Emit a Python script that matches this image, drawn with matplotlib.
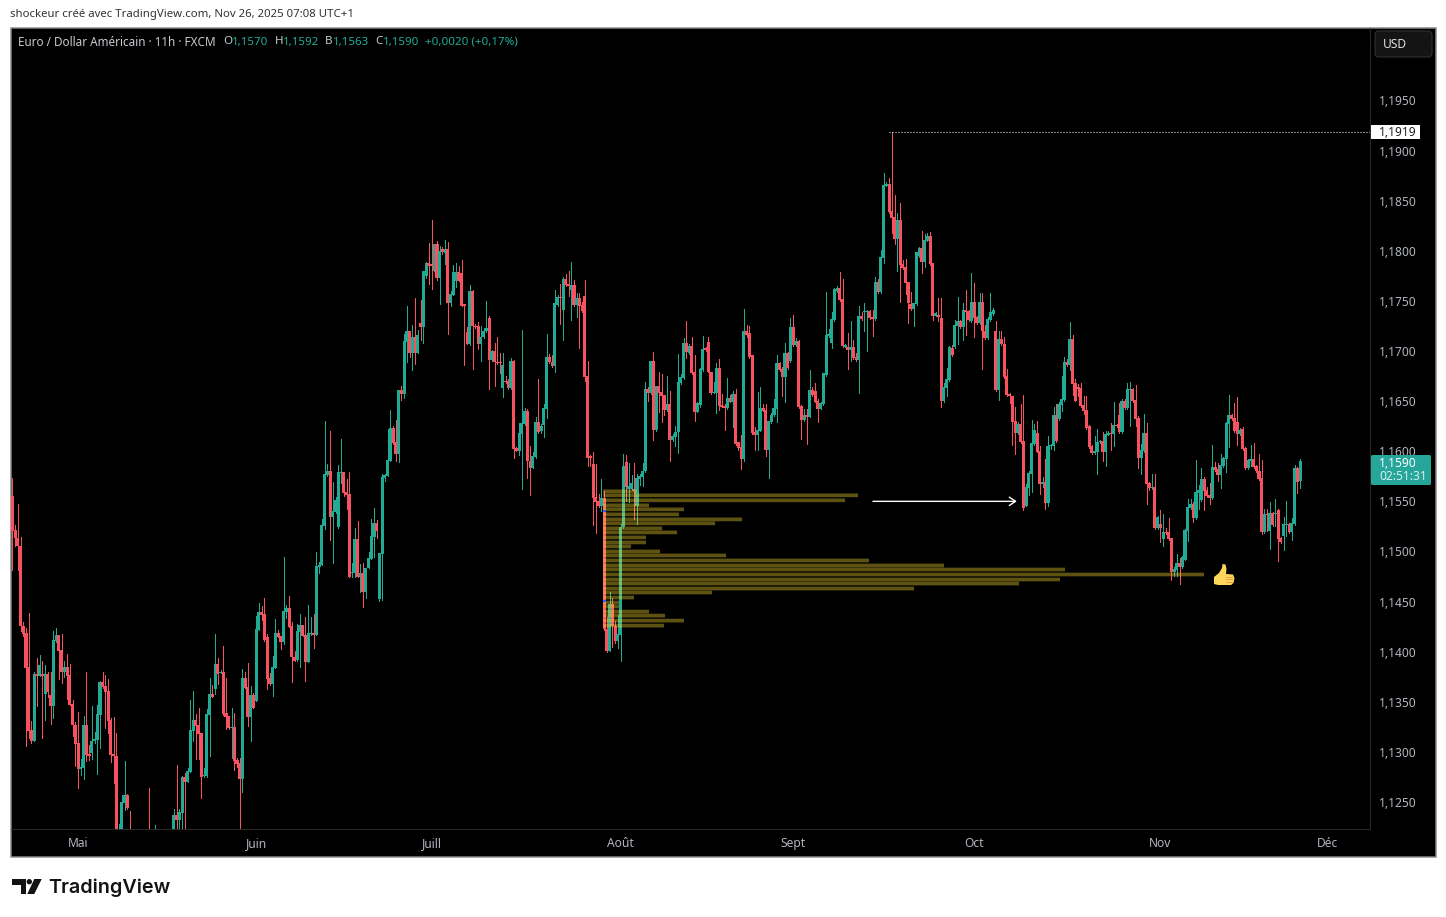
"""EUR/USD 11h candles with a fixed-range volume profile, TradingView dark style."""
import numpy as np
import matplotlib

matplotlib.use("Agg")
import matplotlib.pyplot as plt
from matplotlib.patches import Circle, FancyBboxPatch, Polygon, Rectangle
from matplotlib.ticker import FuncFormatter

# prices are kept in pips (1/10000), bars are in chart order
direction = (
    "rrrrrrrrgr" "grgrrggrrg" "rrrrrggrrg" "gggrrrrrrg" "ggrr"
    "rgrgrrrggrgrggr"
    "grggrgggrr" "rgggrgrgrr" "rgrrrgrrgr" "ggrrrrggrr" "ggrrrggrrg"
    "grgggggrgg" "ggrrrggrgr" "ggggrggggg" "rrgrggrgrg" "rggrrgrgrg"
    "rgggrrrrgr" "rrgggrgrrr" "grrgrrgggr" "rggrgggrrg" "grgrrgrgrr"
    "rrrrrrgrrg" "rrgggrggrg" "gggrgrgrrr" "grgggggrgr" "rgggrrrggr"
    "rrgrgrrrgr" "rrrggrrggg" "grrgrgrgrr" "grgrrrgggg" "gggrrgrgrr"
    "grggrrgrgg" "grrrgrrrrr" "gggrggrrgr" "rgggrggrgr" "rgrrgrrggg"
    "rgrrrrrrgr" "rggggrrgrg" "ggrgggrgrr" "rrrrrrgggr" "ggrgrrgrgg"
    "rrrggrrgrg" "rgrrrggrgg" "ggrgggrrrg" "rrggggrrrg" "rrggrrrrgr"
    "grgrrggrgg" "rg"
)
body_hi = [
    11555,11521,11513,11505,11426,11419,11385,11322,11378,11378,
    11387,11378,11378,11378,11357,11412,11417,11417,11402,11385,
    11385,11377,11348,11327,11309,11285,11327,11327,11298,11311,
    11313,11338,11370,11370,11366,11361,11332,11298,11296,11220,
    11250,11257,11257,11215,
    11205,11208,11208,11212,11212,11200,11215,11212,11217,11205,11205,11205,11210,11215,11215,
    11237,11237,11240,11275,11275,11281,11322,11332,11332,11327,
    11319,11277,11338,11358,11358,11388,11388,11380,11380,11339,
    11336,11325,11325,11292,11289,11374,11374,11365,11357,11357,
    11423,11440,11440,11438,11415,11374,11385,11419,11419,11416,
    11441,11444,11444,11426,11395,11421,11427,11427,11417,11419,
    11419,11419,11485,11486,11526,11577,11580,11580,11540,11551,
    11579,11579,11579,11559,11557,11479,11512,11512,11478,11478,
    11483,11493,11515,11528,11528,11498,11574,11576,11591,11623,
    11623,11609,11661,11661,11710,11720,11720,11714,11714,11716,
    11728,11780,11788,11788,11787,11807,11807,11800,11802,11802,
    11802,11757,11779,11779,11779,11778,11747,11719,11760,11760,
    11725,11725,11714,11720,11723,11733,11700,11700,11689,11689,
    11686,11670,11670,11690,11690,11603,11618,11628,11640,11640,
    11590,11595,11629,11629,11625,11643,11694,11694,11689,11748,
    11754,11754,11772,11772,11767,11766,11766,11753,11753,11746,
    11755,11675,11595,11587,11554,11550,11553,11553,11423,11448,
    11448,11426,11418,11524,11585,11589,11565,11568,11562,11573,
    11575,11580,11662,11662,11690,11690,11665,11665,11659,11656,
    11647,11647,11615,11619,11669,11674,11708,11708,11705,11705,
    11679,11648,11682,11702,11703,11709,11679,11659,11683,11683,
    11646,11645,11653,11653,11657,11657,11609,11604,11720,11720,
    11718,11696,11619,11621,11643,11643,11641,11630,11636,11643,
    11688,11688,11682,11698,11698,11724,11724,11710,11710,11645,
    11636,11636,11661,11661,11660,11650,11648,11678,11716,11717,
    11732,11762,11763,11763,11752,11706,11704,11704,11704,11694,
    11735,11735,11740,11740,11740,11734,11769,11769,11794,11866,
    11867,11867,11840,11834,11831,11831,11787,11784,11769,11747,
    11748,11799,11803,11803,11811,11815,11815,11788,11738,11736,
    11733,11664,11672,11704,11703,11726,11730,11730,11741,11741,
    11740,11749,11749,11734,11749,11749,11720,11732,11739,11741,
    11720,11712,11712,11707,11675,11657,11655,11630,11627,11627,
    11610,11564,11578,11608,11621,11618,11600,11569,11569,11605,
    11606,11636,11636,11647,11652,11689,11689,11712,11712,11668,
    11664,11663,11646,11641,11625,11605,11600,11609,11610,11610,
    11617,11618,11618,11626,11626,11636,11650,11650,11662,11662,
    11662,11651,11633,11601,11618,11618,11568,11564,11564,11534,
    11527,11519,11519,11519,11513,11482,11488,11488,11494,11521,
    11544,11547,11547,11559,11561,11572,11572,11561,11556,11584,
    11584,11582,11586,11593,11628,11636,11636,11633,11629,11621,
    11622,11603,11591,11592,11592,11585,11580,11573,11537,11537,
    11538,11538,11538,11541,11513,11527,11527,11527,11528,11583,
    11583,11590,
]
body_lo = [
    11520,11513,11505,11426,11418,11384,11321,11311,11311,11376,
    11376,11376,11358,11360,11346,11346,11411,11401,11380,11380,
    11376,11347,11327,11308,11283,11283,11284,11297,11296,11299,
    11311,11312,11337,11365,11360,11331,11297,11296,11215,11215,
    11215,11249,11244,11200,
    11195,11195,11198,11198,11200,11190,11195,11195,11205,11195,11195,11198,11198,11208,11208,
    11215,11232,11232,11239,11270,11270,11280,11321,11326,11318,
    11275,11276,11276,11337,11355,11363,11378,11379,11338,11335,
    11324,11324,11291,11288,11273,11273,11364,11335,11335,11344,
    11351,11422,11437,11412,11373,11368,11368,11384,11415,11410,
    11410,11440,11425,11395,11391,11392,11420,11416,11390,11390,
    11418,11417,11417,11484,11486,11525,11576,11534,11534,11539,
    11524,11578,11558,11556,11474,11478,11478,11474,11474,11460,
    11460,11483,11492,11514,11520,11453,11497,11573,11575,11590,
    11608,11597,11597,11657,11657,11709,11698,11698,11698,11698,
    11724,11724,11775,11785,11785,11780,11773,11773,11799,11798,
    11748,11748,11756,11770,11770,11745,11745,11707,11707,11725,
    11724,11707,11707,11714,11720,11691,11691,11689,11688,11688,
    11663,11669,11663,11663,11602,11600,11600,11617,11627,11590,
    11583,11583,11594,11619,11620,11626,11642,11689,11685,11685,
    11746,11753,11741,11766,11765,11761,11746,11746,11745,11740,
    11674,11593,11593,11553,11549,11545,11545,11423,11401,11401,
    11426,11411,11411,11417,11524,11564,11562,11562,11560,11545,
    11572,11574,11580,11658,11658,11621,11621,11658,11655,11641,
    11641,11611,11611,11614,11619,11668,11673,11699,11698,11678,
    11639,11639,11646,11681,11701,11679,11658,11658,11658,11645,
    11644,11643,11643,11649,11649,11607,11603,11592,11592,11716,
    11694,11618,11616,11616,11620,11640,11601,11601,11629,11636,
    11642,11681,11674,11674,11683,11690,11706,11706,11644,11631,
    11631,11634,11634,11656,11649,11642,11642,11647,11676,11715,
    11708,11731,11760,11751,11705,11704,11701,11701,11693,11691,
    11691,11732,11739,11739,11733,11732,11732,11759,11759,11793,
    11865,11839,11833,11812,11812,11786,11783,11768,11748,11742,
    11742,11747,11795,11789,11789,11810,11787,11735,11735,11734,
    11650,11650,11663,11671,11696,11704,11725,11724,11724,11739,
    11731,11730,11733,11728,11728,11720,11713,11713,11731,11737,
    11661,11661,11707,11674,11656,11655,11629,11618,11618,11609,
    11543,11545,11563,11577,11607,11599,11567,11567,11548,11548,
    11605,11605,11610,11632,11646,11651,11686,11686,11667,11650,
    11662,11645,11640,11623,11604,11598,11598,11599,11609,11599,
    11599,11616,11617,11617,11625,11619,11619,11643,11643,11661,
    11650,11632,11593,11593,11600,11567,11563,11563,11523,11523,
    11523,11512,11518,11512,11479,11479,11481,11484,11484,11491,
    11520,11543,11533,11533,11558,11551,11560,11555,11553,11553,
    11581,11576,11576,11585,11592,11627,11632,11620,11617,11617,
    11602,11583,11583,11590,11584,11580,11572,11519,11519,11536,
    11520,11526,11537,11512,11509,11515,11526,11519,11519,11527,
    11569,11570,
]
wick_hi = [
    11573,11526,11547,11514,11430,11424,11439,11331,11380,11394,
    11397,11391,11387,11380,11380,11421,11424,11417,11418,11391,
    11398,11388,11352,11330,11340,11293,11336,11380,11307,11346,
    11320,11347,11371,11380,11377,11373,11334,11335,11319,11228,
    11257,11291,11258,11241,
    11212,11214,11213,11217,11216,11210,11264,11218,11227,11210,11212,11210,11215,11219,11218,
    11243,11287,11243,11276,11279,11284,11352,11361,11338,11344,
    11319,11284,11343,11374,11367,11418,11394,11382,11406,11374,
    11336,11344,11339,11294,11294,11383,11380,11389,11366,11359,
    11436,11449,11446,11454,11418,11379,11396,11433,11422,11416,
    11494,11447,11456,11430,11401,11428,11438,11427,11435,11447,
    11435,11438,11499,11489,11532,11630,11587,11620,11569,11554,
    11586,11612,11579,11572,11579,11488,11523,11530,11487,11488,
    11483,11499,11532,11543,11531,11498,11577,11577,11622,11641,
    11625,11631,11661,11665,11717,11745,11720,11726,11753,11721,
    11751,11780,11789,11808,11831,11807,11810,11805,11804,11811,
    11809,11760,11786,11788,11785,11791,11747,11724,11766,11761,
    11727,11729,11725,11723,11750,11735,11701,11708,11714,11698,
    11698,11675,11672,11693,11691,11604,11628,11721,11643,11642,
    11605,11599,11634,11672,11627,11647,11717,11697,11696,11761,
    11756,11767,11774,11777,11780,11789,11771,11758,11758,11749,
    11771,11690,11596,11599,11587,11557,11572,11560,11435,11460,
    11454,11431,11437,11527,11597,11596,11588,11576,11588,11577,
    11577,11588,11669,11664,11690,11699,11665,11679,11677,11656,
    11675,11660,11617,11625,11697,11677,11713,11730,11707,11714,
    11696,11649,11683,11715,11704,11714,11679,11669,11688,11692,
    11657,11647,11673,11656,11660,11662,11609,11616,11742,11726,
    11725,11696,11624,11659,11664,11647,11647,11630,11638,11652,
    11696,11689,11684,11708,11699,11733,11736,11713,11711,11646,
    11642,11642,11681,11664,11668,11652,11649,11678,11759,11722,
    11739,11763,11765,11779,11772,11707,11718,11730,11711,11698,
    11745,11739,11748,11741,11741,11741,11774,11772,11801,11878,
    11869,11873,11919,11856,11838,11848,11791,11792,11769,11759,
    11748,11799,11804,11820,11817,11818,11819,11788,11739,11753,
    11753,11668,11683,11705,11706,11731,11754,11731,11748,11761,
    11741,11778,11768,11735,11758,11758,11726,11734,11758,11743,
    11730,11720,11720,11714,11682,11658,11655,11644,11629,11647,
    11656,11567,11580,11631,11627,11630,11605,11574,11592,11615,
    11607,11644,11647,11649,11675,11694,11692,11729,11716,11672,
    11667,11668,11655,11655,11626,11606,11615,11622,11611,11619,
    11620,11620,11628,11649,11627,11648,11652,11652,11668,11669,
    11663,11666,11635,11607,11637,11628,11569,11577,11577,11535,
    11541,11537,11523,11533,11513,11484,11497,11493,11495,11522,
    11552,11552,11549,11591,11566,11583,11574,11564,11568,11606,
    11589,11588,11597,11594,11629,11656,11637,11648,11654,11623,
    11624,11604,11592,11606,11608,11586,11597,11591,11542,11542,
    11549,11539,11552,11542,11514,11534,11550,11528,11533,11586,
    11584,11592,
]
wick_lo = [
    11481,11505,11481,11421,11416,11306,11314,11309,11311,11346,
    11376,11314,11332,11355,11328,11334,11410,11373,11369,11375,
    11353,11347,11316,11286,11264,11277,11273,11291,11292,11293,
    11309,11278,11304,11364,11324,11319,11290,11269,11205,11205,
    11205,11242,11243,11190,
    11188,11190,11192,11193,11195,11185,11190,11190,11200,11190,11190,11192,11195,11203,11203,
    11205,11215,11215,11215,11215,11270,11280,11311,11293,11293,
    11254,11275,11275,11296,11355,11358,11368,11379,11337,11323,
    11323,11294,11282,11285,11215,11260,11364,11326,11311,11344,
    11351,11422,11432,11411,11363,11367,11356,11384,11415,11403,
    11408,11434,11425,11370,11391,11391,11385,11416,11371,11390,
    11417,11404,11417,11478,11486,11522,11575,11511,11488,11538,
    11523,11568,11555,11542,11474,11474,11474,11474,11460,11445,
    11454,11483,11492,11494,11513,11451,11452,11570,11575,11590,
    11607,11590,11589,11651,11653,11689,11694,11681,11687,11698,
    11711,11708,11773,11767,11762,11780,11771,11747,11797,11787,
    11717,11745,11756,11764,11770,11745,11686,11707,11706,11682,
    11723,11702,11690,11713,11719,11662,11690,11665,11687,11678,
    11654,11668,11662,11662,11593,11600,11596,11562,11626,11573,
    11556,11583,11593,11618,11618,11614,11633,11688,11684,11679,
    11745,11727,11711,11765,11755,11731,11745,11734,11703,11739,
    11670,11585,11585,11526,11518,11544,11540,11422,11400,11401,
    11405,11409,11404,11391,11523,11550,11549,11561,11532,11527,
    11566,11565,11579,11650,11657,11611,11620,11639,11629,11636,
    11640,11590,11610,11605,11598,11667,11672,11693,11697,11677,
    11630,11639,11644,11680,11700,11679,11657,11658,11638,11641,
    11644,11621,11642,11649,11624,11606,11601,11582,11590,11714,
    11693,11617,11601,11601,11620,11640,11595,11573,11628,11635,
    11629,11680,11655,11649,11682,11689,11705,11705,11643,11612,
    11630,11607,11634,11655,11649,11629,11642,11646,11675,11714,
    11703,11730,11759,11750,11704,11704,11682,11690,11692,11690,
    11658,11731,11720,11700,11732,11715,11731,11758,11758,11788,
    11865,11838,11818,11807,11780,11749,11782,11757,11728,11741,
    11725,11746,11794,11778,11784,11810,11786,11731,11735,11730,
    11644,11649,11655,11670,11695,11703,11707,11723,11711,11716,
    11730,11729,11714,11727,11727,11682,11712,11712,11730,11736,
    11660,11651,11706,11673,11655,11648,11606,11597,11617,11608,
    11541,11545,11556,11559,11606,11599,11557,11564,11542,11545,
    11602,11601,11609,11631,11640,11650,11685,11681,11656,11650,
    11655,11644,11637,11622,11603,11597,11597,11577,11608,11590,
    11585,11616,11601,11605,11624,11618,11618,11642,11642,11625,
    11649,11625,11583,11577,11599,11547,11561,11562,11522,11522,
    11509,11505,11517,11511,11472,11475,11475,11468,11483,11491,
    11510,11542,11529,11532,11542,11550,11541,11554,11547,11552,
    11580,11570,11563,11584,11579,11604,11631,11619,11606,11616,
    11601,11582,11582,11585,11583,11579,11571,11517,11518,11520,
    11502,11525,11525,11490,11508,11501,11515,11518,11511,11526,
    11558,11563,
]

# bar that is cut off by the left edge of the chart
clipped_bar_hi = 11565
clipped_bar_lo = 11390

# fixed range volume profile
profile_price = [
    11560,11556,11551,11546,11542,11537,11532,11528,11523,11519,
    11514,11509,11505,11500,11496,11491,11486,11482,11477,11472,
    11468,11463,11459,11454,11449,11445,11440,11436,11431,11426,
]
profile_volume = [
    34,255,242,46,81,76,139,112,59,74,
    43,43,28,57,123,266,341,462,601,457,
    416,311,109,31,16,16,46,62,81,61,
]
profile_start_bar = 215.6
value_area_marks = [11540, 11451]

month_bars = [24, 89, 153, 222, 285, 351, 419, 480]
month_labels = ["Mai", "Juin", "Juill", "Août", "Sept", "Oct", "Nov", "Déc"]
price_ticks = [1.125, 1.13, 1.135, 1.14, 1.145, 1.15, 1.155, 1.16,
               1.165, 1.17, 1.175, 1.18, 1.185, 1.19, 1.195]

GREEN = "#22ab94"
RED = "#f7525f"
AXIS_TEXT = "#b2b5be"
SEP = "#2a2a2a"
W, H = 1446, 917
PT = 0.72  # one pixel at dpi 100

assert len(direction) == len(body_hi) == len(body_lo) == len(wick_hi) == len(wick_lo)

fig = plt.figure(figsize=(W / 100, H / 100), dpi=100, facecolor="white")
plt.rcParams["font.family"] = ["Noto Sans", "DejaVu Sans"]

# page furniture behind the chart
bg = fig.add_axes([0, 0, 1, 1], zorder=0)
bg.set_xlim(0, W)
bg.set_ylim(H, 0)
bg.axis("off")
bg.add_patch(Rectangle((10.5, 27.5), 1425, 829, fc="black", ec="#8a8a8a", lw=1.5 * PT))

ax = fig.add_axes([11 / W, (H - 829) / H, 1359 / W, 801 / H], zorder=1)
ax.patch.set_visible(False)
bar_px = 2.74
ax.set_xlim((11 - 12.3) / bar_px, (1370 - 12.3) / bar_px)
ax.set_ylim(1.1950 - 728.5 / 10021, 1.1950 + 72.5 / 10021)

bars = np.arange(len(direction))
colors = [GREEN if d == "g" else RED for d in direction]
b_hi = np.array(body_hi) / 10000
b_lo = np.array(body_lo) / 10000
ax.vlines(bars, np.array(wick_lo) / 10000, np.array(wick_hi) / 10000,
          colors=colors, lw=PT, antialiased=False, zorder=2)
ax.bar(bars, b_hi - b_lo, bottom=b_lo, width=1.12, color=colors, linewidth=0,
       antialiased=False, zorder=3)
ax.bar(-0.9, (clipped_bar_hi - clipped_bar_lo) / 10000, bottom=clipped_bar_lo / 10000,
       width=1.1, color=GREEN, linewidth=0, antialiased=False, zorder=3)

# volume profile sits on top of the candles, semi transparent
rows = ax.barh(np.array(profile_price) / 10000, np.array(profile_volume) / bar_px,
               left=profile_start_bar, height=0.00037, color="#ffe033", alpha=0.37,
               linewidth=0, zorder=4)
for row in rows:
    row.set_snap(False)
ax.barh(np.array(value_area_marks) / 10000, 0.9, left=profile_start_bar, height=0.0002,
        color="#2962ff", linewidth=0, zorder=5)

# drawn arrow and the high marker
ax.annotate("", xy=(366.6, 1.1550), xytext=(314.1, 1.1550), zorder=6,
            arrowprops=dict(arrowstyle="->,head_length=0.45,head_width=0.3", color="white",
                            lw=1.0, shrinkA=0, shrinkB=0))
ax.hlines(1.1919, 320, ax.get_xlim()[1], colors="white", lw=PT,
          linestyles=(0, (1, 2)), zorder=6)

ax.yaxis.tick_right()
ax.set_yticks(price_ticks)
ax.yaxis.set_major_formatter(FuncFormatter(lambda v, _: f"{v:.4f}".replace(".", ",")))
ax.set_xticks(month_bars)
ax.set_xticklabels(month_labels, fontweight="bold", va="baseline")
ax.tick_params(axis="y", length=0, pad=6.5, labelsize=12 * PT, labelcolor=AXIS_TEXT)
ax.tick_params(axis="x", length=0, pad=12.9, labelsize=12 * PT, labelcolor=AXIS_TEXT)
for s in ("top", "left"):
    ax.spines[s].set_visible(False)
for s in ("right", "bottom"):
    ax.spines[s].set_color(SEP)
    ax.spines[s].set_linewidth(PT)

# overlay in pixel coordinates for the labels around the chart
fg = fig.add_axes([0, 0, 1, 1], zorder=2)
fg.set_xlim(0, W)
fg.set_ylim(H, 0)
fg.axis("off")
fg.patch.set_visible(False)


def label(x, y, s, color=AXIS_TEXT, size=12, **kw):
    kw.setdefault("va", "center")
    fg.text(x, y, s, color=color, fontsize=size * PT, **kw)


label(10, 15, "shockeur créé avec TradingView.com, Nov 26, 2025 07:08 UTC+1", color="#333333", size=11.4)

label(18, 42, "Euro / Dollar Américain · 11h · FXCM", color="#c8cad0", size=11.7)
for x, s, col in [(223, "O", "#c8cad0"), (232, "1,1570", GREEN), (275, "H", "#c8cad0"),
                  (283, "1,1592", GREEN), (325, "B", "#c8cad0"), (333, "1,1563", GREEN),
                  (375, "C", "#c8cad0"), (383, "1,1590", GREEN),
                  (425, "+0,0020 (+0,17%)", GREEN)]:
    label(x, 42, s, color=col, size=11.6)

# currency button
fg.add_patch(FancyBboxPatch((1375, 31), 57, 26, boxstyle="round,pad=0,rounding_size=4",
                            fc="#141414", ec="#333333", lw=PT))
label(1383, 45, "USD", color="#e0e0e0", size=12)

# high tag
fg.add_patch(Rectangle((1371, 125), 49, 14, fc="white", ec="none"))
label(1379, 132, "1,1919", color="#222222")

# last price tag
fg.add_patch(FancyBboxPatch((1371, 455), 60, 30, boxstyle="round,pad=0,rounding_size=1.5",
                            fc="#26a69a", ec="none"))
label(1379, 463.5, "1,1590", color="white", fontweight="bold")
label(1379, 477, "02:51:31", color="#d5efeb")

# thumbs up sticker
fg.add_patch(Polygon([(1214, 577), (1219, 573), (1222, 568), (1222.5, 564), (1225.5, 564.5),
                      (1226.5, 569), (1226, 574), (1233, 574.5), (1234.5, 578), (1233.5, 583),
                      (1231, 585), (1218, 585), (1214, 584)], fc="#ffd65c", ec="none"))
for yy in (576.5, 579.3, 582.1):
    fg.add_patch(Rectangle((1225.5, yy), 7.5, 1.1, fc="#f0a040", ec="none"))

# TradingView logo
LOGO = "#131313"
fg.add_patch(Polygon([(12.3, 879), (26, 879), (26, 894), (20.7, 894), (20.7, 884.6), (12.3, 884.6)],
                     fc=LOGO, ec="none"))
fg.add_patch(Circle((29.3, 881.7), 2.7, fc=LOGO, ec="none"))
fg.add_patch(Polygon([(34.3, 879), (41.7, 879), (34.3, 894), (27.3, 894)], fc=LOGO, ec="none"))
label(48.5, 888, "TradingView", color=LOGO, size=19.8, fontweight="semibold", family="Inter")

fig.savefig("out.png", dpi=100, facecolor="white")
